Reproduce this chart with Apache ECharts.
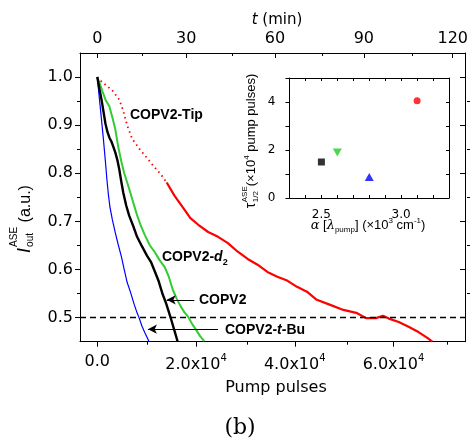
<!DOCTYPE html>
<html>
<head>
<meta charset="utf-8">
<script src="https://cdn.jsdelivr.net/npm/echarts@6.0.0/dist/echarts.min.js"></script>
<style>
html,body{margin:0;padding:0;background:#fff;}
#chart{width:471px;height:442px;}
</style>
</head>
<body>
<div id="chart"></div>
<script>
// ---------------- data ----------------
const tBuPulses = [0,460,860,1260,1660,1960,2260,2560,3060,3660,4260,4860,5460,6060,6660,7460,8060,8460,9060,9660,10460];
const tBuInt    = [1.0,0.952,0.911,0.869,0.823,0.786,0.755,0.730,0.703,0.676,0.651,0.628,0.600,0.573,0.555,0.528,0.510,0.500,0.482,0.468,0.451];

const copv2Pulses = [0,460,860,1260,1660,2060,2460,2860,3260,3660,4060,4460,4860,5260,5860,6460,7260,8060,9060,10060,10860,11660,12460,13260,13860,14460,15060,15660,16260];
const copv2Int    = [1.0,0.974,0.953,0.928,0.903,0.886,0.874,0.866,0.855,0.843,0.828,0.808,0.783,0.760,0.733,0.712,0.691,0.668,0.648,0.629,0.616,0.596,0.575,0.548,0.532,0.513,0.493,0.472,0.451];

const d2Pulses = [0,460,1060,1660,2460,3060,3660,4260,4860,5460,6060,6660,7260,8060,8860,9660,10660,11660,12660,13660,14460,15260,16060,16860,17660,18460,19260,20060,20860,21660];
const d2Int    = [1.0,0.988,0.970,0.953,0.939,0.916,0.891,0.854,0.825,0.800,0.781,0.761,0.740,0.713,0.690,0.671,0.650,0.636,0.619,0.605,0.586,0.559,0.540,0.524,0.511,0.501,0.486,0.474,0.461,0.451];

const tipPulses = [0,460,1660,3060,4460,5260,6060,7060,8660,10060,11460,12860,14060,15660,17260,18860,20460,22460,24460,26460,28460,30460,32460,34460,36460,38460,40460,42460,44460,47060,49860,52460,54460,56460,57860,59060,61060,63060,65060,66860,67860];
const tipInt    = [1.0,0.994,0.984,0.972,0.953,0.930,0.899,0.872,0.849,0.832,0.814,0.798,0.781,0.753,0.730,0.707,0.693,0.678,0.668,0.655,0.637,0.622,0.610,0.595,0.585,0.577,0.564,0.554,0.537,0.527,0.516,0.510,0.499,0.499,0.504,0.498,0.491,0.481,0.470,0.458,0.450];
const tipSparseEnd = 12; // early, sparsely sampled part of the Tip trace (drawn dotted)

// inset: half-life vs absorption coefficient
const insetAlpha = [2.5, 2.6, 2.8, 3.1];
const insetTau   = [1.5, 1.9, 0.87, 4.05];

// axes ticks / labels
const pulseTicks  = [0, 20000, 40000, 60000];
const pulseMinor  = [10000, 30000, 50000, 70000];
const minuteTicks = [0, 30, 60, 90, 120];
const minuteMinor = [15, 45, 75, 105];
const yTicks      = [0.5, 0.6, 0.7, 0.8, 0.9, 1.0];
const yMinor      = [0.55, 0.65, 0.75, 0.85, 0.95];
const insetXTicks = [2.3, 2.4, 2.5, 2.6, 2.7, 2.8, 2.9, 3.0, 3.1, 3.2, 3.3];
const insetXLabels= [2.5, 3.0];
const insetYTicks = [0, 1, 2, 3, 4, 5];
const insetYLabels= [0, 2, 4];
const halfLevel = 0.5;
const arrowCOPV2 = [19660, 14060, 0.537];
const arrowTBu   = [24460, 10260, 0.476];
const pulsesPerMinute = 600;
const pulseMin = -3500, pulseMax = 74500;

// --------------- helpers ---------------
const zip = (a, b) => a.map((v, i) => [v, b[i]]);
const SANS = 'DejaVu Sans';
const LIB = 'Liberation Sans';
const mctx = document.createElement('canvas').getContext('2d');
function fontStr(p){ return (p.italic?'italic ':'')+(p.bold?'bold ':'')+p.size+'px "'+p.family+'"'; }
function richGroup(pieces, x, y, opts){
  opts = opts || {};
  let cur = 0, prevStart = 0; const kids = [];
  pieces.forEach(p => {
    const f = fontStr(p); mctx.font = f;
    const w = mctx.measureText(p.text).width;
    const start = p.stack ? prevStart : cur + (p.gap||0);
    kids.push({type:'text', x:start, y:-(p.rise||0) - 0.35*p.size,
      style:{text:p.text, font:f, fill:'#000', textAlign:'left', textVerticalAlign:'middle'}});
    prevStart = start;
    cur = Math.max(cur, start + w);
  });
  if (opts.anchor === 'center') kids.forEach(k => k.x -= cur/2);
  return {type:'group', x:x, y:y, rotation: opts.rot||0, children:kids, z:100};
}
function fmtPulse(v){
  if (v === 0) return '{z|0.0}';
  return '{b|' + (v/1e4).toFixed(1) + 'x10}{s|4}';
}
const blackLine = {color:'#000', width:1};
const tipData = zip(tipPulses, tipInt);

const chart = echarts.init(document.getElementById('chart'), null, {renderer:'canvas'});
const option = {
  animation:false,
  backgroundColor:'#fff',
  grid:[
    {left:80, top:53, width:390, height:288.7},
    {left:80, top:53, width:390, height:288.7},
    {left:289.5, top:78, width:159.5, height:120}
  ],
  xAxis:[
    {gridIndex:0, type:'value', position:'bottom', min:pulseMin, max:pulseMax,
     axisLine:{show:true, onZero:false, lineStyle:blackLine},
     axisTick:{show:true, inside:false, length:5, customValues:pulseTicks, lineStyle:blackLine},
     axisLabel:{show:true, customValues:pulseTicks, margin:12, formatter:fmtPulse, color:'#000',
       rich:{ z:{fontFamily:SANS, fontSize:16, lineHeight:16, color:'#000'},
              b:{fontFamily:SANS, fontSize:16, lineHeight:22, color:'#000'},
              s:{fontFamily:SANS, fontSize:10, lineHeight:10, verticalAlign:'top', color:'#000'} }},
     splitLine:{show:false}},
    {gridIndex:0, type:'value', position:'top', min:pulseMin/pulsesPerMinute, max:pulseMax/pulsesPerMinute,
     axisLine:{show:true, onZero:false, lineStyle:blackLine},
     axisTick:{show:true, inside:true, length:5, customValues:minuteTicks, lineStyle:blackLine},
     axisLabel:{show:true, customValues:minuteTicks, margin:6, color:'#000', fontFamily:SANS, fontSize:16},
     splitLine:{show:false}},
    {gridIndex:1, type:'value', position:'bottom', min:pulseMin, max:pulseMax,
     axisLine:{show:false, onZero:false},
     axisTick:{show:true, inside:false, length:3, customValues:pulseMinor, lineStyle:blackLine},
     axisLabel:{show:false}, splitLine:{show:false}},
    {gridIndex:1, type:'value', position:'top', min:pulseMin/pulsesPerMinute, max:pulseMax/pulsesPerMinute,
     axisLine:{show:false, onZero:false},
     axisTick:{show:true, inside:true, length:3, customValues:minuteMinor, lineStyle:blackLine},
     axisLabel:{show:false}, splitLine:{show:false}},
    {gridIndex:2, type:'value', position:'bottom', min:2.3, max:3.3,
     axisLine:{show:true, onZero:false, lineStyle:blackLine},
     axisTick:{show:true, inside:true, length:3, customValues:insetXTicks, lineStyle:blackLine},
     axisLabel:{show:true, customValues:insetXLabels, margin:11, formatter:v=>v.toFixed(1), color:'#000', fontFamily:SANS, fontSize:12},
     splitLine:{show:false}},
    {gridIndex:2, type:'value', position:'top', min:2.3, max:3.3,
     axisLine:{show:true, onZero:false, lineStyle:blackLine},
     axisTick:{show:true, inside:true, length:3, customValues:insetXTicks, lineStyle:blackLine},
     axisLabel:{show:false}, splitLine:{show:false}}
  ],
  yAxis:[
    {gridIndex:0, type:'value', position:'left', min:0.45, max:1.05,
     axisLine:{show:true, onZero:false, lineStyle:blackLine},
     axisTick:{show:true, inside:false, length:5, customValues:yTicks, lineStyle:blackLine},
     axisLabel:{show:true, customValues:yTicks, margin:7, formatter:v=>v.toFixed(1), color:'#000', fontFamily:SANS, fontSize:16},
     splitLine:{show:false}},
    {gridIndex:0, type:'value', position:'right', min:0.45, max:1.05,
     axisLine:{show:true, onZero:false, lineStyle:blackLine},
     axisTick:{show:true, inside:true, length:5, customValues:yTicks, lineStyle:blackLine},
     axisLabel:{show:false}, splitLine:{show:false}},
    {gridIndex:1, type:'value', position:'left', min:0.45, max:1.05,
     axisLine:{show:false, onZero:false},
     axisTick:{show:true, inside:false, length:3, customValues:yMinor, lineStyle:blackLine},
     axisLabel:{show:false}, splitLine:{show:false}},
    {gridIndex:1, type:'value', position:'right', min:0.45, max:1.05,
     axisLine:{show:false, onZero:false},
     axisTick:{show:true, inside:true, length:3, customValues:yMinor, lineStyle:blackLine},
     axisLabel:{show:false}, splitLine:{show:false}},
    {gridIndex:2, type:'value', position:'left', min:0, max:5,
     axisLine:{show:true, onZero:false, lineStyle:blackLine},
     axisTick:{show:true, inside:false, length:4, customValues:insetYTicks, lineStyle:blackLine},
     axisLabel:{show:true, customValues:insetYLabels, margin:14, color:'#000', fontFamily:SANS, fontSize:12},
     splitLine:{show:false}},
    {gridIndex:2, type:'value', position:'right', min:0, max:5,
     axisLine:{show:true, onZero:false, lineStyle:blackLine},
     axisTick:{show:true, inside:true, length:3, customValues:insetYTicks, lineStyle:blackLine},
     axisLabel:{show:false}, splitLine:{show:false}}
  ],
  series:[
    {name:'COPV2-Tip', type:'line', xAxisIndex:0, yAxisIndex:0, data:tipData.slice(0, tipSparseEnd + 1),
     showSymbol:false, symbol:'none', lineStyle:{color:'#ff0000', width:1.8, type:[1.5,3.5]}, z:3},
    {name:'COPV2-Tip', type:'line', xAxisIndex:0, yAxisIndex:0, data:tipData.slice(tipSparseEnd),
     showSymbol:false, symbol:'none', lineStyle:{color:'#ff0000', width:2.2}, z:3,
     markLine:{silent:true, symbol:['none','none'], label:{show:false},
       lineStyle:{color:'#000', type:[6,4], width:1.3}, data:[{yAxis:halfLevel}]}},
    {name:'COPV2-d2', type:'line', xAxisIndex:0, yAxisIndex:0, data:zip(d2Pulses, d2Int),
     showSymbol:false, symbol:'none', lineStyle:{color:'#33cc33', width:2}, z:3},
    {name:'COPV2', type:'line', xAxisIndex:0, yAxisIndex:0, data:zip(copv2Pulses, copv2Int),
     showSymbol:false, symbol:'none', lineStyle:{color:'#000', width:2.4}, z:4,
     markLine:{silent:true, symbol:['none','arrow'], symbolSize:[7,9], label:{show:false},
       lineStyle:{color:'#000', type:'solid', width:1},
       data:[
         [{coord:[arrowCOPV2[0], arrowCOPV2[2]]},{coord:[arrowCOPV2[1], arrowCOPV2[2]]}],
         [{coord:[arrowTBu[0], arrowTBu[2]]},{coord:[arrowTBu[1], arrowTBu[2]]}]
       ]}},
    {name:'COPV2-t-Bu', type:'line', xAxisIndex:0, yAxisIndex:0, data:zip(tBuPulses, tBuInt),
     showSymbol:false, symbol:'none', lineStyle:{color:'#0000ff', width:1.2}, z:3},
    {type:'scatter', xAxisIndex:4, yAxisIndex:4, data:[[insetAlpha[0], insetTau[0]]], symbol:'rect', symbolSize:7, itemStyle:{color:'#000'}},
    {type:'scatter', xAxisIndex:4, yAxisIndex:4, data:[[insetAlpha[1], insetTau[1]]], symbol:'triangle', symbolRotate:180, symbolSize:[9,8], itemStyle:{color:'#22cc22'}},
    {type:'scatter', xAxisIndex:4, yAxisIndex:4, data:[[insetAlpha[2], insetTau[2]]], symbol:'triangle', symbolSize:[9,8], itemStyle:{color:'#0000ff'}},
    {type:'scatter', xAxisIndex:4, yAxisIndex:4, data:[[insetAlpha[3], insetTau[3]]], symbol:'circle', symbolSize:7, itemStyle:{color:'#ff0000'}}
  ],
  graphic:[
    richGroup([
      {text:'I', size:18, italic:true, family:LIB},
      {text:'ASE', size:10, family:LIB, rise:13, gap:1},
      {text:'out', size:10, family:LIB, rise:-3, stack:true},
      {text:' (a.u.)', size:16, family:LIB}
    ], 31, 219, {anchor:'center', rot:Math.PI/2}),
    richGroup([
      {text:'t', size:15, italic:true, family:SANS},
      {text:' (min)', size:15, family:SANS}
    ], 277, 25, {anchor:'center'}),
    richGroup([{text:'Pump pulses', size:16, family:SANS}], 276, 393, {anchor:'center'}),
    richGroup([{text:'(b)', size:22, family:'DejaVu Serif'}], 240, 436, {anchor:'center'}),
    richGroup([{text:'COPV2-Tip', size:14, bold:true, family:LIB}], 130, 120),
    richGroup([
      {text:'COPV2-', size:14, bold:true, family:LIB},
      {text:'d', size:14, bold:true, italic:true, family:LIB},
      {text:'2', size:9, bold:true, family:LIB, rise:-4}
    ], 162, 262),
    richGroup([{text:'COPV2', size:14, bold:true, family:LIB}], 199, 305),
    richGroup([
      {text:'COPV2-', size:14, bold:true, family:LIB},
      {text:'t', size:14, bold:true, italic:true, family:LIB},
      {text:'-Bu', size:14, bold:true, family:LIB}
    ], 225, 335),
    richGroup([
      {text:'\u03b1', size:13, italic:true, family:'DejaVu Serif'},
      {text:' [', size:13, family:LIB},
      {text:'\u03bb', size:13, italic:true, family:'DejaVu Serif'},
      {text:'pump', size:8, family:LIB, rise:-3},
      {text:'] (\u00d710', size:13, family:LIB},
      {text:'3', size:8, family:LIB, rise:6},
      {text:' cm', size:13, family:LIB},
      {text:'-1', size:8, family:LIB, rise:6},
      {text:')', size:13, family:LIB}
    ], 368, 230, {anchor:'center'}),
    richGroup([
      {text:'\u03c4', size:14, family:LIB},
      {text:'ASE', size:8, family:LIB, rise:8, gap:0.5},
      {text:'1/2', size:8, family:LIB, rise:-3, stack:true},
      {text:'(\u00d710', size:13, family:LIB},
      {text:'4', size:8, family:LIB, rise:6},
      {text:' pump pulses)', size:13, family:LIB}
    ], 256, 141, {anchor:'center', rot:Math.PI/2})
  ]
};
chart.setOption(option);
</script>
</body>
</html>
